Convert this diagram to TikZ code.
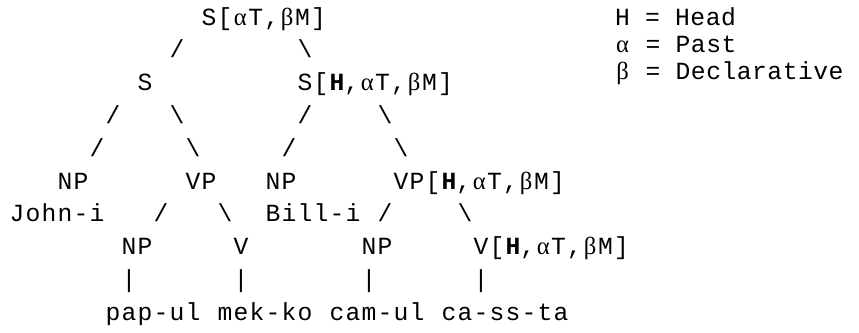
\documentclass[tikz,border=0pt]{standalone}
\usepackage{fontspec}
\setmonofont{Liberation Mono}[LetterSpace=4.9]
\newfontfamily\keyfont{Liberation Mono}[LetterSpace=2.0]
\newfontfamily\greekfont{Liberation Serif}

% one mono cell, set per style
\newlength{\cellw}
\newcommand{\galpha}{\makebox[\cellw]{\greekfont α}}
\newcommand{\gbeta}{\makebox[\cellw]{\greekfont β}}
\newcommand{\cellsp}{\hspace*{\cellw}}
\newcommand{\headfeats}{[\textbf{H},\galpha T,\gbeta M]}

\tikzset{
  tree/.style={anchor=base west, inner sep=0pt, outer sep=0pt, xshift=0.45pt,
    font=\setlength{\cellw}{12pt}\ttfamily\fontsize{18.5pt}{24.6pt}\selectfont},
  legend/.style={anchor=base west, inner sep=0pt, outer sep=0pt,
    font=\setlength{\cellw}{11.475pt}\keyfont\fontsize{18.5pt}{20.25pt}\selectfont}
}

\begin{document}
\begin{tikzpicture}[x=12pt, y=-24.6pt]
  \useasboundingbox (-6.75pt,-5.85pt) rectangle (637.5pt,-254.85pt);

  % Categories
  \node[tree] (root) at (12,1) {S[\galpha T,\gbeta M]};
  \node[tree] (s) at (8,3) {S};
  \node[tree] (sh) at (18,3) {S\headfeats};
  \node[tree] (np1) at (3,6) {NP};
  \node[tree] (vp1) at (11,6) {VP};
  \node[tree] (np2) at (16,6) {NP};
  \node[tree] (vph) at (24,6) {VP\headfeats};
  \node[tree] (john) at (0,7) {John-i};
  \node[tree] (bill) at (16,7) {Bill-i};
  \node[tree] (np3) at (7,8) {NP};
  \node[tree] (v1) at (14,8) {V};
  \node[tree] (np4) at (22,8) {NP};
  \node[tree] (vh) at (29,8) {V\headfeats};

  % Branches, typed as characters
  \foreach \c/\r in {10/2, 6/4, 18/4, 5/5, 17/5, 9/7, 23/7}
    \node[tree] (fs-\c-\r) at (\c,\r) {/};
  \foreach \c/\r in {18/2, 10/4, 23/4, 11/5, 24/5, 13/7, 28/7}
    \node[tree] (bs-\c-\r) at (\c,\r) {\textbackslash};
  \foreach \c in {7,14,22,29}
    \node[tree] (bar-\c) at (\c,9) {|};

  % Words
  \node[tree] (pap) at (6,10) {pap-ul};
  \node[tree] (mek) at (13,10) {mek-ko};
  \node[tree] (cam) at (20,10) {cam-ul};
  \node[tree] (cas) at (27,10) {ca-ss-ta};

  % Key
  \node[legend] (keyh) at (454.5pt,-24.6pt) {H\cellsp=\cellsp Head};
  \node[legend] (keya) at (454.5pt,-44.85pt) {\galpha\cellsp=\cellsp Past};
  \node[legend] (keyb) at (454.5pt,-65.1pt) {\gbeta\cellsp=\cellsp Declarative};

\end{tikzpicture}
\end{document}
